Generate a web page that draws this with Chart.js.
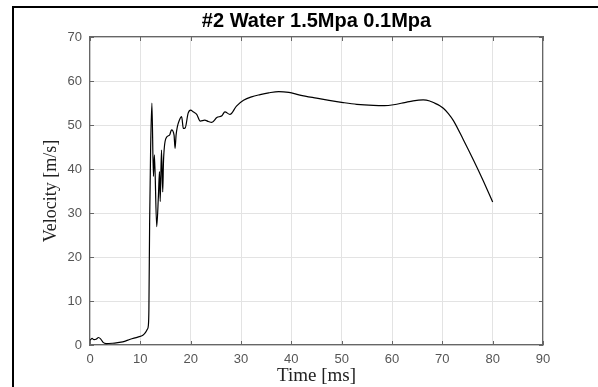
<!DOCTYPE html>
<html>
<head>
<meta charset="utf-8">
<script src="https://cdn.jsdelivr.net/npm/chart.js@4.4.1/dist/chart.umd.min.js"></script>
<style>
html,body{margin:0;padding:0;background:#fff;}
#wrap{position:relative;width:598px;height:387px;overflow:hidden;}
#frame{position:absolute;left:12px;top:6px;width:600px;height:379px;border-left:2px solid #000;border-top:2px solid #000;border-bottom:1px solid #ccc;pointer-events:none;}
canvas{display:block;}
</style>
</head>
<body>
<div id="wrap">
<canvas id="c" width="598" height="387"></canvas>
<div id="frame"></div>
</div>
<script>
// Data
const timeMs = [0, 0.4, 0.8, 1.2, 1.7, 2.1, 2.6, 3.2, 4.5, 6.5, 8, 9.5, 10.5, 11.0, 11.4, 11.6, 11.7, 11.85, 12.05, 12.3,
  12.6, 12.8, 13.25, 13.6, 13.8, 13.95, 14.2, 14.45, 14.6, 15.1, 15.8, 16.2, 16.7, 16.9, 17.1, 17.35, 17.75, 18.2, 18.55, 18.9,
  19.5, 20.0, 20.5, 21.2, 21.9, 22.8, 23.5, 24.2, 25.2, 26.2, 26.8, 27.8, 29.1, 30.5, 32.1, 33.8, 35.5, 37.5, 39.5, 41.7,
  45, 47.5, 50.3, 53, 56.3, 58.5, 60.3, 62.5, 64.2, 66.2, 67.5, 68.2, 69.5, 70.2, 71.2, 72.2, 74.2, 76.2, 78.1, 80];
const velocity = [1.0, 1.5, 1.2, 1.3, 1.7, 1.4, 0.6, 0.3, 0.4, 0.7, 1.3, 1.8, 2.2, 2.8, 3.6, 4.5, 8, 28, 45, 55,
  38.3, 43.2, 26.9, 34.1, 39.4, 32.6, 44.3, 34.8, 41.7, 47, 47.7, 48.9, 47.7, 44.7, 47.7, 49.6, 51.1, 51.9, 49.2, 49.3,
  52.7, 53.4, 53, 52.4, 50.9, 51.1, 50.8, 50.6, 51.7, 52.1, 53, 52.4, 54.3, 55.6, 56.4, 56.9, 57.3, 57.6, 57.4, 56.8,
  56.1, 55.6, 55.1, 54.7, 54.45, 54.4, 54.6, 55.1, 55.5, 55.7, 55.45, 55.1, 54.4, 53.8, 52.6, 51.0, 46.6, 42, 37.4, 32.5];
const xTicks = [0, 10, 20, 30, 40, 50, 60, 70, 80, 90];
const yTicks = [0, 10, 20, 30, 40, 50, 60, 70];
const chartTitle = '#2 Water 1.5Mpa 0.1Mpa';
const xTitle = 'Time [ms]';
const yTitle = 'Velocity [m/s]';

const points = timeMs.map((t, i) => ({x: t, y: velocity[i]}));

const innerTicks = {
  id: 'innerTicks',
  afterDatasetsDraw(chart) {
    const {ctx, chartArea: a, scales: {x, y}} = chart;
    ctx.save();
    ctx.strokeStyle = '#666';
    ctx.lineWidth = 1;
    ctx.beginPath();
    x.ticks.forEach(t => {
      const px = Math.round(x.getPixelForValue(t.value)) + 0.5;
      ctx.moveTo(px, a.bottom); ctx.lineTo(px, a.bottom - 4);
      ctx.moveTo(px, a.top); ctx.lineTo(px, a.top + 4);
    });
    y.ticks.forEach(t => {
      const py = Math.round(y.getPixelForValue(t.value)) + 0.5;
      ctx.moveTo(a.left, py); ctx.lineTo(a.left + 4, py);
      ctx.moveTo(a.right, py); ctx.lineTo(a.right - 4, py);
    });
    ctx.stroke();
    ctx.restore();
  }
};

new Chart(document.getElementById('c'), {
  type: 'line',
  data: {
    datasets: [{
      data: points,
      borderColor: '#000',
      borderWidth: 1.2,
      pointRadius: 0,
      fill: false,
      cubicInterpolationMode: 'monotone'
    }]
  },
  options: {
    responsive: false,
    animation: false,
    devicePixelRatio: 1,
    layout: {padding: {left: 40, right: 5, top: 0, bottom: 0}},
    plugins: {
      legend: {display: false},
      tooltip: {enabled: false},
      title: {
        display: true,
        text: chartTitle,
        color: '#000',
        font: {family: 'Liberation Sans', size: 20, weight: 'bold', lineHeight: 1.2},
        padding: {top: 9, bottom: 4}
      }
    },
    scales: {
      x: {
        type: 'linear', position: 'bottom', min: 0, max: 90,
        afterBuildTicks: s => { s.ticks = xTicks.map(v => ({value: v})); },
        afterFit: s => { s.height = 42; },
        grid: {color: '#e3e3e3', drawTicks: false},
        border: {color: '#666', width: 1.2},
        ticks: {color: '#555', font: {family: 'Liberation Sans', size: 13}, padding: 7, maxRotation: 0},
        title: {display: true, text: xTitle, color: '#222', font: {family: 'Liberation Serif', size: 19, lineHeight: 1.15}, padding: {top: 0, bottom: 0}}
      },
      y: {
        type: 'linear', position: 'left', min: 0, max: 70,
        afterBuildTicks: s => { s.ticks = yTicks.map(v => ({value: v})); },
        afterFit: s => { s.width = 50; },
        grid: {color: '#e3e3e3', drawTicks: false},
        border: {color: '#666', width: 1.2},
        ticks: {color: '#555', font: {family: 'Liberation Sans', size: 13}, padding: 8},
        title: {display: true, text: yTitle, color: '#222', font: {family: 'Liberation Serif', size: 18, lineHeight: 1.2}, padding: {top: 0, bottom: 0}}
      },
      x2: {
        type: 'linear', position: 'top', min: 0, max: 90,
        afterFit: s => { s.height = 0; },
        grid: {display: false, drawTicks: false},
        border: {display: true, color: '#666', width: 1.2},
        ticks: {display: false}
      },
      y2: {
        type: 'linear', position: 'right', min: 0, max: 70,
        afterFit: s => { s.width = 50; },
        grid: {display: false, drawTicks: false},
        border: {display: true, color: '#666', width: 1.2},
        ticks: {display: false}
      }
    }
  },
  plugins: [innerTicks]
});
</script>
</body>
</html>
